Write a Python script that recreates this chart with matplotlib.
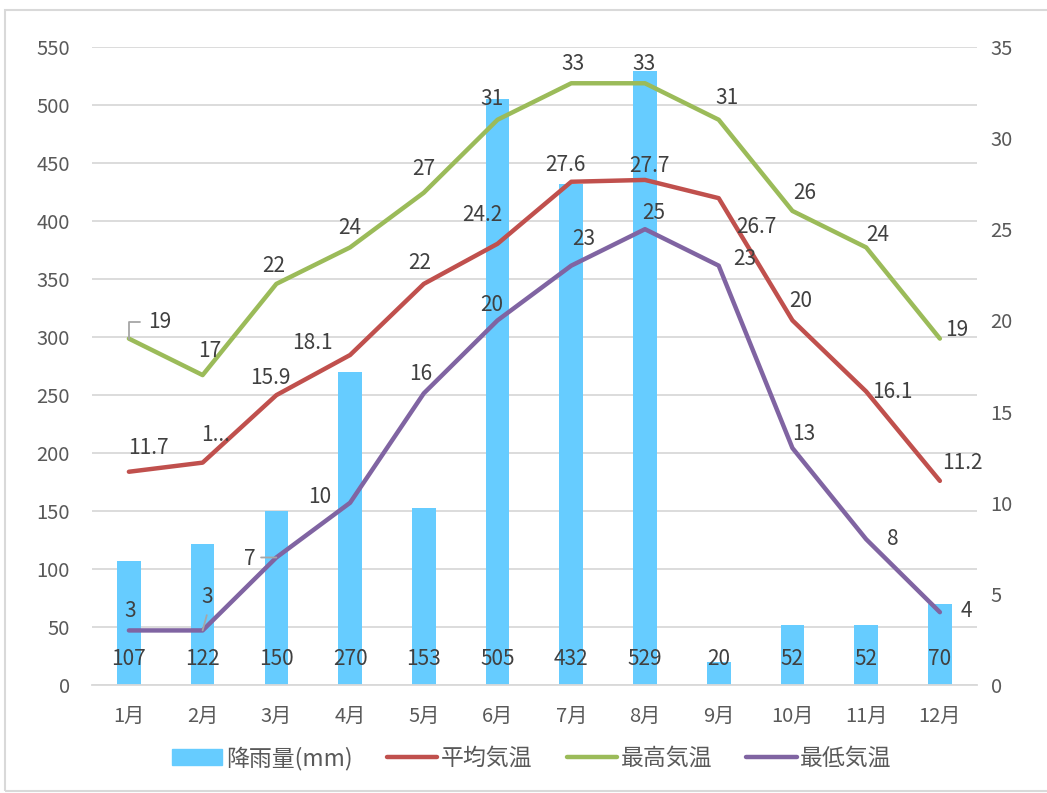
import matplotlib
matplotlib.use("Agg")
import matplotlib.pyplot as plt
from matplotlib.patches import Rectangle
import numpy as np

plt.rcParams['font.family'] = ['Noto Sans CJK JP', 'DejaVu Sans']

months = ['1月', '2月', '3月', '4月', '5月', '6月', '7月', '8月', '9月', '10月', '11月', '12月']
rain = [107, 122, 150, 270, 153, 505, 432, 529, 20, 52, 52, 70]
avg_temp = [11.7, 12.2, 15.9, 18.1, 22, 24.2, 27.6, 27.7, 26.7, 20, 16.1, 11.2]
max_temp = [19, 17, 22, 24, 27, 31, 33, 33, 31, 26, 24, 19]
min_temp = [3, 3, 7, 10, 16, 20, 23, 25, 23, 13, 8, 4]
avg_labels = ['11.7', '1...', '15.9', '18.1', '22', '24.2', '27.6', '27.7', '26.7', '20', '16.1', '11.2']

# label offsets in points (dx, dy) -- placement only
avg_off = [(14, 17), (9, 20), (-4, 12), (-27, 9), (-3, 15), (-11, 21), (-4, 12), (3, 10), (27, -21), (6, 14), (19, 0), (16, 13)]
max_off = [(22, 12), (5, 17), (-2, 13), (0, 14), (0, 17), (-4, 15), (1, 14), (-1, 14), (6, 16), (9, 13), (8, 9), (12, 6)]
min_off = [(1, 14), (3, 24), (-19, -1), (-22, 4), (-2, 14), (-4, 11), (9, 19), (6, 12), (19, 5), (8, 10), (19, 0), (19, 1)]

C_BAR = '#66CCFF'
C_AVG = '#C0504D'
C_MAX = '#9BBB59'
C_MIN = '#8064A2'
C_TXT = '#404040'
C_TICK = '#595959'
C_GRID = '#D9D9D9'
FS = 14.5
FS_LAB = 15
FS_LEG = 16.5

fig = plt.figure(figsize=(10.47, 7.93), dpi=100)
ax = fig.add_axes([0.0879, 0.136, 0.845, 0.805])
ax2 = ax.twinx()

x = np.arange(len(months))
ax.bar(x, rain, width=0.32, color=C_BAR, zorder=2, label='降雨量(mm)')
ax.set_xlim(-0.5, len(months) - 0.5)
ax.set_ylim(0, 550)
ax.set_yticks(np.arange(0, 551, 50))
ax.yaxis.grid(True, color=C_GRID, linewidth=1.3, zorder=0)
ax.set_axisbelow(True)
for s in ['top', 'right', 'left']:
    ax.spines[s].set_visible(False)
    ax2.spines[s].set_visible(False)
ax.spines['bottom'].set_color(C_GRID)
ax.spines['bottom'].set_linewidth(1.3)
ax2.spines['bottom'].set_visible(False)
ax.set_xticks(x)
ax.set_xticklabels(months)
ax.tick_params(axis='both', length=0, labelsize=FS, labelcolor=C_TICK)
ax.tick_params(axis='y', pad=16)
ax.tick_params(axis='x', pad=15)

ax2.set_ylim(0, 35)
ax2.set_yticks(np.arange(0, 36, 5))
ax2.tick_params(axis='y', length=0, labelsize=FS, labelcolor=C_TICK, pad=10)

l1, = ax2.plot(x, avg_temp, color=C_AVG, lw=3.2, solid_capstyle='round', solid_joinstyle='round', label='平均気温', zorder=3)
l2, = ax2.plot(x, max_temp, color=C_MAX, lw=3.2, solid_capstyle='round', solid_joinstyle='round', label='最高気温', zorder=3)
l3, = ax2.plot(x, min_temp, color=C_MIN, lw=3.2, solid_capstyle='round', solid_joinstyle='round', label='最低気温', zorder=3)

# bar labels near base
for i, v in enumerate(rain):
    ax.annotate(str(v), xy=(i, 0), xycoords='data', xytext=(0, 19), textcoords='offset points',
                ha='center', va='center', fontsize=FS_LAB, color=C_TXT, zorder=5)

def lab(vals, texts, offs):
    for i, v in enumerate(vals):
        ax2.annotate(texts[i], xy=(i, v), xytext=offs[i], textcoords='offset points',
                     ha='center', va='center', fontsize=FS_LAB, color=C_TXT, zorder=6)

lab(avg_temp, avg_labels, avg_off)
lab(max_temp, [str(v) for v in max_temp], max_off)
lab(min_temp, [str(v) for v in min_temp], min_off)

# leader lines
lc = '#A6A6A6'
ax2.annotate('', xy=(0, max_temp[0]), xytext=(8, 12), textcoords='offset points',
             arrowprops=dict(arrowstyle='-', color=lc, lw=1.3, connectionstyle='angle,angleA=0,angleB=90,rad=0',
                             shrinkA=0, shrinkB=0))
ax2.annotate('', xy=(1, min_temp[1]), xytext=(3, 11), textcoords='offset points',
             arrowprops=dict(arrowstyle='-', color=lc, lw=1.3, shrinkA=0, shrinkB=0))
ax2.annotate('', xy=(2, min_temp[2]), xytext=(-11, 0), textcoords='offset points',
             arrowprops=dict(arrowstyle='-', color=lc, lw=1.3, shrinkA=0, shrinkB=0))

handles = [plt.Rectangle((0, 0), 1, 1, color=C_BAR), l1, l2, l3]
leg = fig.legend(handles, ['降雨量(mm)', '平均気温', '最高気温', '最低気温'], loc='center',
                 bbox_to_anchor=(0.508, 0.044), ncol=4, frameon=False, fontsize=FS_LEG,
                 handlelength=2.2, handleheight=0.65, columnspacing=1.5, handletextpad=0.15)
for t in leg.get_texts():
    t.set_color(C_TICK)

fig.patches.append(Rectangle((5 / 1047, 0.002), 1.2, 1 - 10 / 793 - 0.002, transform=fig.transFigure,
                             fill=False, edgecolor=C_GRID, lw=1.5))

fig.savefig('out.png', dpi=100)
